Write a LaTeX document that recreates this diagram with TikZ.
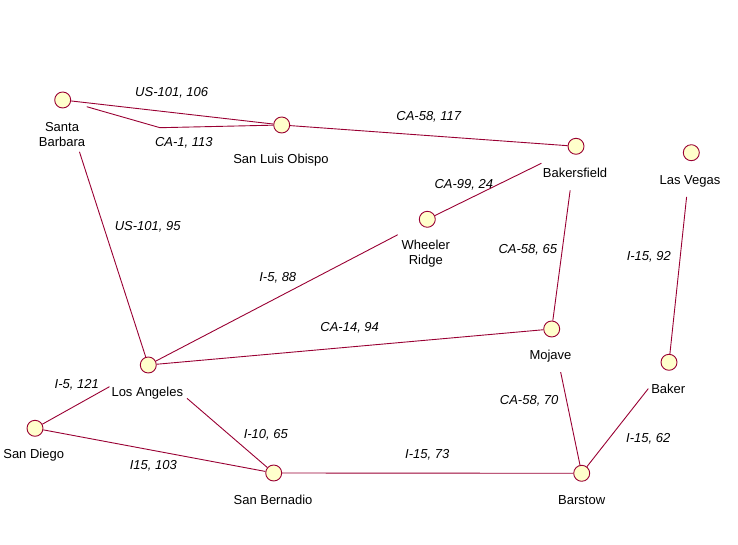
\documentclass[tikz,border=0pt]{standalone}
\usepackage{fontspec}
\setmainfont{Liberation Sans}
\definecolor{roadred}{RGB}{153,0,51}
\definecolor{cityfill}{RGB}{255,255,204}
\begin{document}
\begin{tikzpicture}[>=latex,line join=bevel,
  city/.style={circle,draw=roadred,fill=cityfill,line width=0.9bp,minimum size=16bp,inner sep=0pt},
  cityname/.style={inner sep=0pt,anchor=base,font=\fontsize{13bp}{15bp}\selectfont},
  cityname2/.style={inner sep=0pt,anchor=north,align=center,font=\fontsize{13bp}{15bp}\selectfont},
  road/.style={roadred,line width=0.9bp},
  roadlabel/.style={inner sep=0pt,anchor=base,font=\fontsize{13bp}{15bp}\selectfont\itshape},
]
\useasboundingbox (0bp,0bp) rectangle (738bp,545bp);
%%
\node (node_0) at (62.7bp,445.0bp) [city] {};
  \node (node_1) at (281.7bp,420.0bp) [city] {};
  \node (node_2) at (576.0bp,398.7bp) [city] {};
  \node (node_3) at (691.3bp,392.3bp) [city] {};
  \node (node_4) at (427.3bp,325.7bp) [city] {};
  \node (node_5) at (551.7bp,216.0bp) [city] {};
  \node (node_6) at (669.0bp,182.7bp) [city] {};
  \node (node_7) at (148.3bp,180.0bp) [city] {};
  \node (node_8) at (35.0bp,116.7bp) [city] {};
  \node (node_9) at (273.7bp,72.0bp) [city] {};
  \node (node_10) at (581.7bp,71.7bp) [city] {};
%
  \node (name_0) at (62.0bp,423.0bp) [cityname2] {Santa\\Barbara};
  \node (name_1) at (281.0bp,381.4bp) [cityname] {San Luis Obispo};
  \node (name_2) at (575.0bp,367.0bp) [cityname] {Bakersfield};
  \node (name_3) at (690.0bp,360.7bp) [cityname] {Las Vegas};
  \node (name_4) at (425.8bp,305.0bp) [cityname2] {Wheeler\\Ridge};
  \node (name_5) at (550.5bp,185.4bp) [cityname] {Mojave};
  \node (name_6) at (668.3bp,151.7bp) [cityname] {Baker};
  \node (name_7) at (147.3bp,148.0bp) [cityname] {Los Angeles};
  \node (name_8) at (33.7bp,86.7bp) [cityname] {San Diego};
  \node (name_9) at (273.0bp,40.4bp) [cityname] {San Bernadio};
  \node (name_10) at (581.7bp,40.7bp) [cityname] {Barstow};
%
  \coordinate (ca1_start) at (86.7bp,438.3bp);
  \coordinate (ca1_bend) at (160.0bp,417.3bp);
  \draw [road] (node_0) -- (node_1);
  \draw [road] (ca1_start) -- (ca1_bend) -- (node_1);
  \draw [road] (node_1) -- (node_2);
  \draw [road,shorten <=46bp] (node_0) -- (node_7);
  \draw [road,shorten <=30bp] (node_2) -- (node_4);
  \draw [road,shorten <=36bp] (node_2) -- (node_5);
  \draw [road,shorten <=36bp] (node_3) -- (node_6);
  \draw [road,shorten <=25bp] (node_4) -- (node_7);
  \draw [road] (node_7) -- (node_5);
  \draw [road,shorten <=36bp] (node_7) -- (node_8);
  \draw [road,shorten <=42.6bp] (node_7) -- (node_9);
  \draw [road] (node_8) -- (node_9);
  \draw [road] (node_9) -- (node_10);
  \draw [road,shorten <=35.6bp] (node_5) -- (node_10);
  \draw [road,shorten <=25bp] (node_6) -- (node_10);
%
  \node (road_0) at (171.7bp,448.0bp) [roadlabel] {US-101, 106};
  \node (road_1) at (183.8bp,398.7bp) [roadlabel] {CA-1, 113};
  \node (road_2) at (428.8bp,424.7bp) [roadlabel] {CA-58, 117};
  \node (road_3) at (463.8bp,356.4bp) [roadlabel] {CA-99, 24};
  \node (road_4) at (527.8bp,291.4bp) [roadlabel] {CA-58, 65};
  \node (road_5) at (648.8bp,284.0bp) [roadlabel] {I-15, 92};
  \node (road_6) at (147.7bp,314.0bp) [roadlabel] {US-101, 95};
  \node (road_7) at (277.8bp,263.0bp) [roadlabel] {I-5, 88};
  \node (road_8) at (349.7bp,213.7bp) [roadlabel] {CA-14, 94};
  \node (road_9) at (76.7bp,156.4bp) [roadlabel] {I-5, 121};
  \node (road_10) at (265.8bp,106.4bp) [roadlabel] {I-10, 65};
  \node (road_11) at (153.3bp,75.4bp) [roadlabel] {I15, 103};
  \node (road_12) at (529.2bp,140.7bp) [roadlabel] {CA-58, 70};
  \node (road_13) at (648.2bp,102.0bp) [roadlabel] {I-15, 62};
  \node (road_14) at (427.2bp,86.4bp) [roadlabel] {I-15, 73};
%
\end{tikzpicture}
\end{document}
